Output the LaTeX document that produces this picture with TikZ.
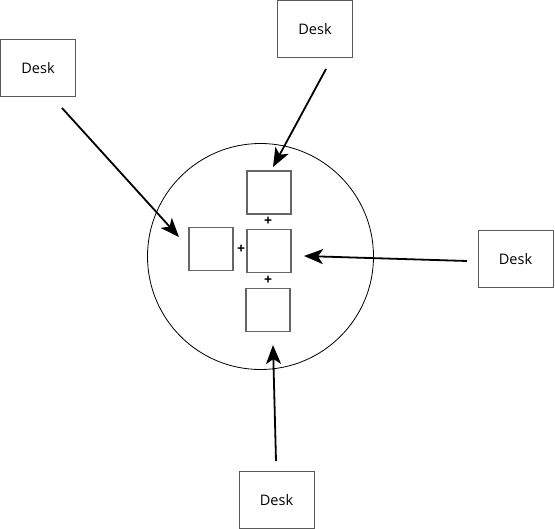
\documentclass[tikz,border=0pt]{standalone}
\usepackage{fontspec}
\setmainfont{Open Sans}
\usetikzlibrary{arrows.meta}
\begin{document}
\begin{tikzpicture}[x=1pt,y=-1pt,
  desk/.style={draw=black!65,line width=1pt,minimum width=75pt,minimum height=57pt,inner sep=0pt,font=\fontsize{14.5}{16}\selectfont},
  sq/.style={draw=black!60,line width=1.1pt,minimum width=44pt,minimum height=43pt,inner sep=0pt},
  plus/.style={font=\bfseries\fontsize{14}{14}\selectfont,inner sep=0pt},
  arr/.style={line width=1.8pt,-{Stealth[length=19pt,width=15pt,inset=5pt]}}]
\useasboundingbox (0,0) rectangle (555,529);
\node[desk] (dl) at (38,68) {Desk};
\node[desk] (dt) at (315,29.5) {Desk};
\node[desk] (dr) at (515.5,259.5) {Desk};
\node[desk] (db) at (276.5,500) {Desk};
\node[draw,circle,line width=0.8pt,minimum size=226pt,inner sep=0pt] (c) at (260.5,256.5) {};
\node[sq] (st) at (269,192.5) {};
\node[sq] (sm) at (269,251) {};
\node[sq] (sl) at (211,249) {};
\node[sq] (sb) at (268,310) {};
\node[plus] (p1) at (268,221.5) {+};
\node[plus] (p2) at (241,249) {+};
\node[plus] (p3) at (268,280.5) {+};
\coordinate (al) at (62,108);
\coordinate (alt) at (179,237);
\coordinate (at) at (326,69);
\coordinate (att) at (273,167);
\coordinate (ar) at (467,261);
\coordinate (art) at (304,256);
\coordinate (ab) at (276,461);
\coordinate (abt) at (273,345);
\draw[arr] (al) -- (alt);
\draw[arr] (at) -- (att);
\draw[arr] (ar) -- (art);
\draw[arr] (ab) -- (abt);
\end{tikzpicture}
\end{document}
